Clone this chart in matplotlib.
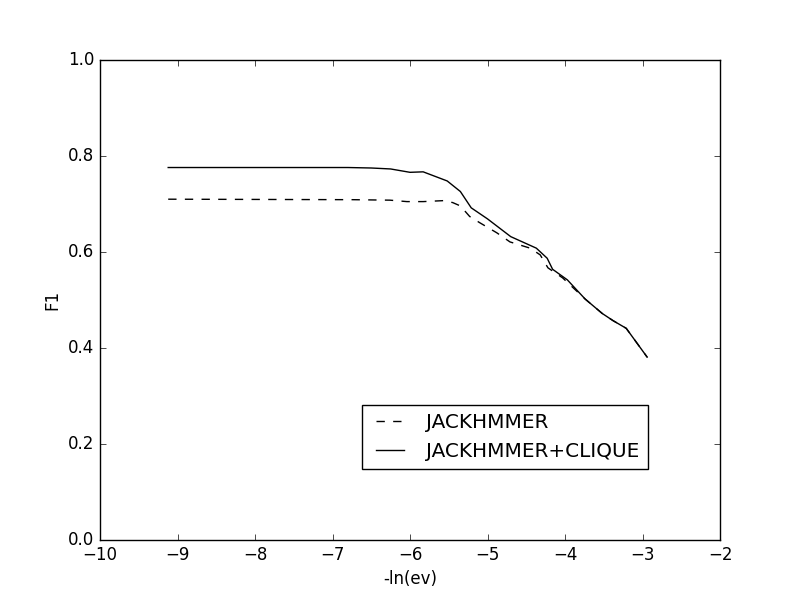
import matplotlib
matplotlib.use('Agg')
import matplotlib.pyplot as plt

plt.style.use('classic')

# JACKHMMER (dashed)
jack_x = [-9.12, -6.74, -6.26, -6.04, -5.83, -5.57, -5.45, -5.35, -5.23, -5.10,
          -4.88, -4.71, -4.45, -4.32, -4.22, -4.03, -3.74, -3.52, -3.38, -3.21, -2.94]
jack_f1 = [0.710, 0.709, 0.708, 0.705, 0.705, 0.707, 0.703, 0.696, 0.674, 0.661,
           0.640, 0.621, 0.608, 0.594, 0.567, 0.546, 0.502, 0.472, 0.457, 0.441, 0.381]

# JACKHMMER+CLIQUE (solid)
clique_x = [-9.12, -6.80, -6.50, -6.25, -6.00, -5.83, -5.52, -5.35, -5.21, -5.00,
            -4.70, -4.37, -4.23, -4.16, -3.97, -3.74, -3.52, -3.38, -3.21, -2.94]
clique_f1 = [0.776, 0.776, 0.775, 0.773, 0.766, 0.767, 0.748, 0.726, 0.692, 0.669,
             0.632, 0.608, 0.587, 0.564, 0.542, 0.502, 0.472, 0.457, 0.441, 0.381]

fig, ax = plt.subplots(figsize=(8, 6))
ax.plot(jack_x, jack_f1, 'k--', label='JACKHMMER')
ax.plot(clique_x, clique_f1, 'k-', label='JACKHMMER+CLIQUE')

ax.set_xlim(-10, -2)
ax.set_ylim(0, 1)
ax.set_xlabel('-ln(ev)')
ax.set_ylabel('F1')
ax.legend(loc=(0.423, 0.148))

fig.savefig('out.png', dpi=100)
